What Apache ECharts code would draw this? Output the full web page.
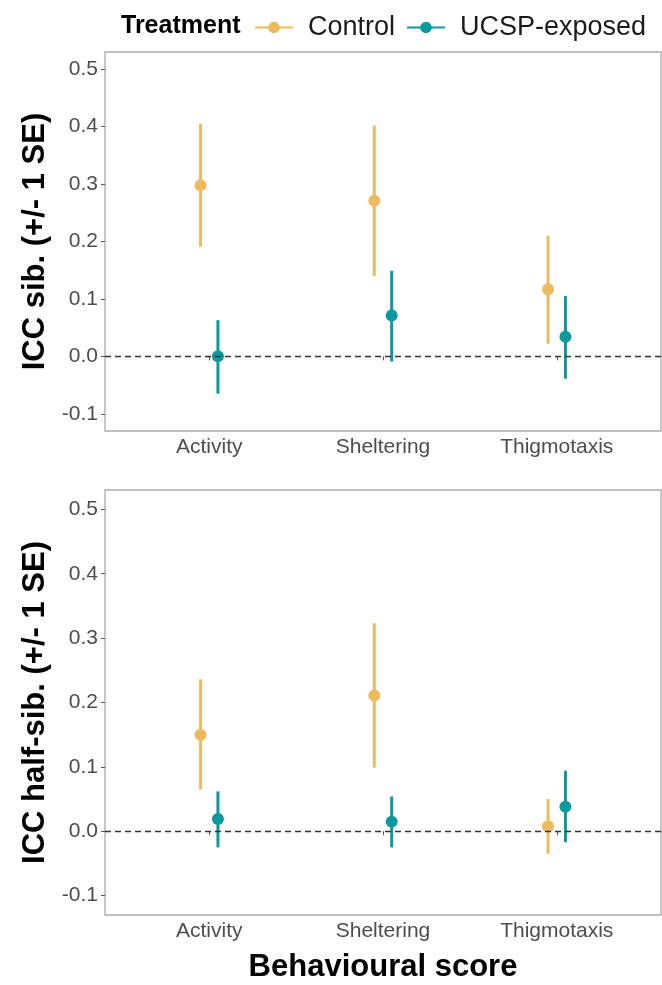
<!DOCTYPE html>
<html>
<head>
<meta charset="utf-8">
<script src="https://cdn.jsdelivr.net/npm/echarts@6/dist/echarts.min.js"></script>
<style>
  html, body { margin: 0; padding: 0; background: #fff; }
  #main { width: 662px; height: 985px; }
</style>
</head>
<body>
<div id="main"></div>
<script>
// values
const categories = ["Activity", "Sheltering", "Thigmotaxis"];
const yTicks = [-0.1, 0, 0.1, 0.2, 0.3, 0.4, 0.5];

// ICC sib.
const sibControlMean = [0.298, 0.271, 0.117];
const sibControlLow = [0.191, 0.140, 0.022];
const sibControlHigh = [0.405, 0.402, 0.210];
const sibExposedMean = [0.000, 0.071, 0.034];
const sibExposedLow = [-0.065, -0.009, -0.039];
const sibExposedHigh = [0.063, 0.149, 0.105];

// ICC half-sib.
const halfControlMean = [0.150, 0.211, 0.008];
const halfControlLow = [0.065, 0.099, -0.035];
const halfControlHigh = [0.236, 0.323, 0.050];
const halfExposedMean = [0.019, 0.015, 0.038];
const halfExposedLow = [-0.025, -0.025, -0.017];
const halfExposedHigh = [0.062, 0.054, 0.094];

const CONTROL = "#EDBA5E";
const EXPOSED = "#0A9A9D";
const dodge = 0.05;

function renderBar(params, api) {
  const x = api.value(0);
  const lo = api.coord([x, api.value(1)]);
  const hi = api.coord([x, api.value(2)]);
  return {
    type: "line",
    shape: { x1: lo[0], y1: lo[1], x2: hi[0], y2: hi[1] },
    style: { stroke: api.visual("color"), lineWidth: 3 }
  };
}

function barSeries(name, color, idx, shift, low, high) {
  return {
    name: name,
    type: "custom",
    xAxisIndex: idx,
    yAxisIndex: idx,
    itemStyle: { color: color },
    renderItem: renderBar,
    encode: { x: 0, y: [1, 2] },
    data: categories.map((c, i) => [i + 1 + shift, low[i], high[i]])
  };
}

function pointSeries(name, color, idx, shift, mean, withZero) {
  const s = {
    name: name,
    type: "scatter",
    xAxisIndex: idx,
    yAxisIndex: idx,
    symbol: "circle",
    symbolSize: 12,
    itemStyle: { color: color, opacity: 1 },
    data: categories.map((c, i) => [i + 1 + shift, mean[i]])
  };
  if (withZero) {
    s.markLine = {
      silent: true,
      symbol: "none",
      label: { show: false },
      lineStyle: { type: [6, 4], color: "#333", width: 1.3 },
      data: [{ yAxis: 0 }]
    };
  }
  return s;
}

function xAxis(idx, name) {
  return {
    type: "value",
    gridIndex: idx,
    min: 0.4,
    max: 3.6,
    name: name,
    nameLocation: "middle",
    nameGap: 37,
    nameTextStyle: { fontSize: 31, fontWeight: "bold", color: "#000", fontFamily: "Liberation Sans" },
    splitLine: { show: false },
    axisLine: { show: false },
    axisTick: { show: true, customValues: [1, 2, 3], length: 4, lineStyle: { color: "#555" } },
    axisLabel: {
      customValues: [1, 2, 3],
      formatter: v => categories[Math.round(v) - 1],
      fontSize: 21,
      color: "#4d4d4d",
      fontFamily: "Liberation Sans",
      margin: 6
    }
  };
}

function yAxis(idx, name) {
  return {
    type: "value",
    gridIndex: idx,
    min: -0.13,
    max: 0.53,
    name: name,
    nameLocation: "middle",
    nameRotate: 90,
    nameGap: 54,
    nameTextStyle: { fontSize: 31, fontWeight: "bold", color: "#000", fontFamily: "Liberation Sans" },
    splitLine: { show: false },
    axisLine: { show: false },
    axisTick: { show: true, customValues: yTicks, length: 4, lineStyle: { color: "#555" } },
    axisLabel: {
      customValues: yTicks,
      formatter: v => v.toFixed(1),
      fontSize: 21,
      color: "#4d4d4d",
      fontFamily: "Liberation Sans",
      margin: 7
    }
  };
}

const legendIcon =
  "path://M0,5 L36,5 L36,7 L0,7 Z M23.5,6 A5.5,5.5 0 1,1 12.5,6 A5.5,5.5 0 1,1 23.5,6 Z";

const chart = echarts.init(document.getElementById("main"), null, { renderer: "canvas" });

chart.setOption({
  animation: false,
  backgroundColor: "#fff",
  title: {
    text: "Treatment",
    left: 116,
    top: 9,
    textStyle: { fontSize: 25, fontWeight: "bold", color: "#000", fontFamily: "Liberation Sans" }
  },
  legend: {
    data: ["Control", "UCSP-exposed"],
    left: 250,
    top: 9,
    icon: legendIcon,
    itemWidth: 38,
    itemHeight: 13,
    itemGap: 12,
    textStyle: { fontSize: 27, color: "#1a1a1a", fontFamily: "Liberation Sans", padding: [0, 0, 0, 10] }
  },
  grid: [
    { left: 105, right: 1, top: 52, height: 379, show: true, borderColor: "#aaaaaa", borderWidth: 1.3, outerBoundsMode: "none" },
    { left: 105, right: 1, top: 490, height: 425, show: true, borderColor: "#aaaaaa", borderWidth: 1.3, outerBoundsMode: "none" }
  ],
  xAxis: [xAxis(0, ""), xAxis(1, "Behavioural score")],
  yAxis: [yAxis(0, "ICC sib. (+/- 1 SE)"), yAxis(1, "ICC half-sib. (+/- 1 SE)")],
  series: [
    barSeries("Control", CONTROL, 0, -dodge, sibControlLow, sibControlHigh),
    barSeries("UCSP-exposed", EXPOSED, 0, dodge, sibExposedLow, sibExposedHigh),
    pointSeries("Control", CONTROL, 0, -dodge, sibControlMean, false),
    pointSeries("UCSP-exposed", EXPOSED, 0, dodge, sibExposedMean, true),
    barSeries("Control", CONTROL, 1, -dodge, halfControlLow, halfControlHigh),
    barSeries("UCSP-exposed", EXPOSED, 1, dodge, halfExposedLow, halfExposedHigh),
    pointSeries("Control", CONTROL, 1, -dodge, halfControlMean, false),
    pointSeries("UCSP-exposed", EXPOSED, 1, dodge, halfExposedMean, true)
  ]
});
</script>
</body>
</html>
